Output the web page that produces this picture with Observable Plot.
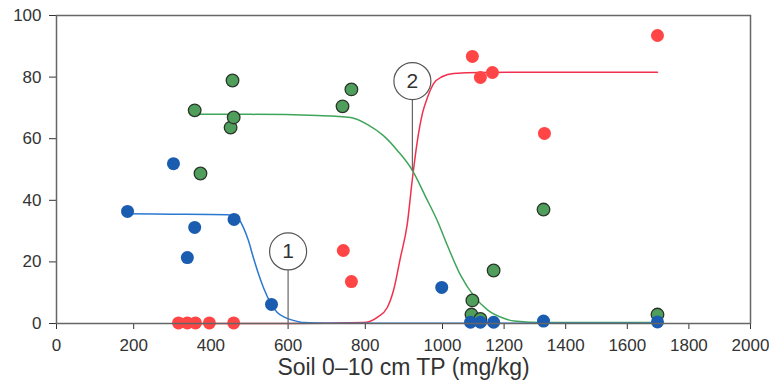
<!DOCTYPE html>
<html>
<head>
<meta charset="utf-8">
<script src="https://cdn.jsdelivr.net/npm/d3@7"></script>
<script src="https://cdn.jsdelivr.net/npm/@observablehq/plot@0.6"></script>
<style>
  html, body { margin: 0; padding: 0; background: #fff; }
  #chart svg { display: block; }
</style>
</head>
<body>
<div id="chart"></div>
<script>
// Tick labels
const xTicks = [0, 200, 400, 600, 800, 1000, 1200, 1400, 1600, 1800, 2000];
const yTicks = [0, 20, 40, 60, 80, 100];
const xLabel = "Soil 0–10 cm TP (mg/kg)";

// Observed points
const blueX = [184, 303, 339, 358, 460, 557, 998, 1091, 1123, 1166, 1328, 1698];
const blueY = [36.4, 51.9, 21.4, 31.2, 33.8, 6.2, 11.7, 0.4, 0.4, 0.4, 0.8, 0.5];
const redX = [316, 339, 360, 396, 459, 743, 764, 1097, 1123, 1162, 1331, 1698];
const redY = [0.2, 0.2, 0.2, 0.2, 0.2, 23.7, 13.6, 86.7, 79.9, 81.5, 61.7, 93.5];
const greenX = [358, 373, 451, 456, 459, 741, 764, 1094, 1097, 1123, 1166, 1328, 1698];
const greenY = [69.2, 48.7, 63.6, 78.9, 66.9, 70.5, 76.0, 2.9, 7.5, 1.5, 17.2, 37.0, 2.9];

// Fitted curves
const blueCurveX = [184, 300, 443, 469, 484, 497, 510, 523, 536, 554, 572, 593, 614, 640, 700, 1000, 1400, 1698];
const blueCurveY = [35.6, 35.5, 35.3, 34.4, 31.2, 27, 21.4, 16.2, 11.7, 6.8, 3.6, 1.9, 1, 0.3, 0.1, 0.1, 0.1, 0.1];
const redCurveX = [316, 600, 795, 831, 857, 873, 891, 909, 922, 935, 948, 961, 977, 1000, 1036, 1123, 1400, 1698];
const redCurveY = [0, 0, 0.3, 2, 5.2, 10.7, 21.4, 32.5, 47, 59.4, 68.2, 73.4, 77.9, 80.2, 81.2, 81.5, 81.6, 81.6];
const greenCurveX = [365, 503, 676, 762, 806, 847, 883, 922, 956, 986, 1016, 1058, 1103, 1146, 1201, 1233, 1330, 1698];
const greenCurveY = [67.9, 67.9, 67.5, 66.9, 64.6, 61, 56.2, 49.7, 41.2, 33.5, 25.3, 15.8, 8.8, 4.4, 1.6, 0.8, 0.3, 0.3];

// Annotation markers
const markLabels = ["1", "2"];
const markX = [600, 922];
const markY = [23.4, 78.7];
const markBase = [0, 49.5];

const zip = (xs, ys) => xs.map((x, i) => ({x, y: ys[i]}));
const blue = zip(blueX, blueY), red = zip(redX, redY), green = zip(greenX, greenY);
const blueC = zip(blueCurveX, blueCurveY), redC = zip(redCurveX, redCurveY), greenC = zip(greenCurveX, greenCurveY);
const marks = markLabels.map((t, i) => ({t, x: markX[i], y: markY[i], base: markBase[i], top: markY[i] - 6}));

const chart = Plot.plot({
  width: 769,
  height: 389,
  marginLeft: 56,
  marginRight: 19,
  marginTop: 15,
  marginBottom: 66,
  style: {fontFamily: "Liberation Sans, Arial, sans-serif", fontSize: "17px", color: "#333", background: "#fff"},
  x: {type: "linear", domain: [0, 1000, 2000], range: [56, 442, 750], ticks: xTicks, tickFormat: d => String(d), tickSize: 6, tickPadding: 9, label: null},
  y: {type: "linear", domain: [0, 100], range: [323, 15], ticks: yTicks, tickSize: 7, tickPadding: 8, label: null},
  marks: [
    Plot.line(redC, {x: "x", y: "y", stroke: "#f0304d", strokeWidth: 1.5, curve: "monotone-x"}),
    Plot.line(greenC, {x: "x", y: "y", stroke: "#3ea55a", strokeWidth: 1.5, curve: "monotone-x"}),
    Plot.line(blueC, {x: "x", y: "y", stroke: "#2a78d0", strokeWidth: 1.5, curve: "monotone-x"}),
    Plot.ruleX(marks, {x: "x", y1: "base", y2: "top", stroke: "#666", strokeWidth: 1.2}),
    Plot.dot(marks, {x: "x", y: "y", r: 18.5, fill: "white", stroke: "#555", strokeWidth: 1.2}),
    Plot.text(marks, {x: "x", y: "y", text: "t", fontSize: 21, fill: "#333"}),
    Plot.dot(red, {x: "x", y: "y", r: 6.5, fill: "#ff4545", stroke: "none"}),
    Plot.dot(green, {x: "x", y: "y", r: 6.3, fill: "#4f9e5c", stroke: "#2a352a", strokeWidth: 1.3}),
    Plot.dot(blue, {x: "x", y: "y", r: 6.5, fill: "#1a5cb0", stroke: "none"}),
    Plot.frame({stroke: "#666", strokeWidth: 1.5}),
    Plot.text([xLabel], {frameAnchor: "bottom", dy: 51, fontSize: 23, fill: "#333"})
  ]
});
document.getElementById("chart").appendChild(chart);
</script>
</body>
</html>
